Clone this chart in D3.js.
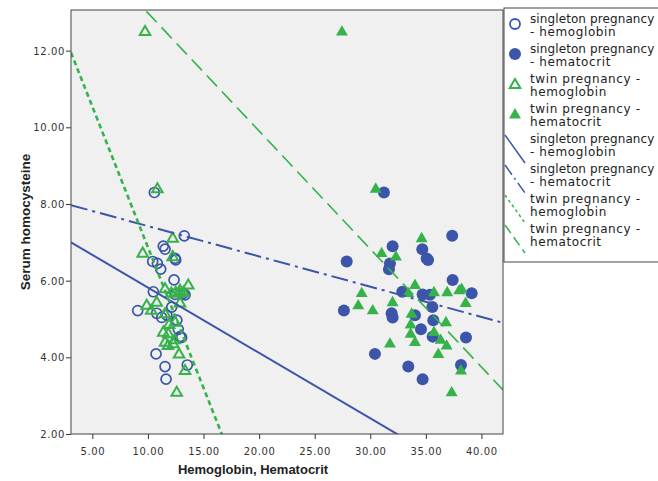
<!DOCTYPE html>
<html><head><meta charset="utf-8">
<script src="https://cdn.jsdelivr.net/npm/d3@7"></script>
<style>body{margin:0;background:#fff;} svg{display:block;}</style>
</head><body>
<svg id="c" width="658" height="481"></svg>
<script>
// Singleton pregnancy: serum homocysteine with hemoglobin / hematocrit per subject
const singletonHcy = [8.30,7.17,6.90,6.82,6.58,6.54,6.50,6.45,6.30,6.02,5.71,5.67,5.64,5.63,5.31,5.22,5.15,5.04,5.10,4.97,4.73,4.54,4.52,4.09,3.80,3.76,3.43];
const singletonHb  = [10.58,13.27,11.38,11.54,12.44,12.50,10.43,10.85,11.15,12.35,10.49,13.18,12.44,13.34,12.14,9.08,10.79,11.24,11.70,12.60,12.73,12.89,13.03,10.73,13.54,11.54,11.63];
const singletonHct = [31.23,37.37,32.01,34.68,35.07,35.20,27.88,31.77,31.68,37.41,32.88,39.12,34.71,35.37,35.58,27.63,31.92,32.01,34.02,35.67,34.56,35.61,38.61,30.42,38.16,33.42,34.71];
// Twin pregnancy
const twinHcy = [12.51,8.41,7.12,6.73,6.64,5.90,5.80,5.76,5.71,5.71,5.69,5.69,5.45,5.43,5.37,5.24,5.15,4.93,4.87,4.67,4.63,4.47,4.41,4.37,4.32,4.10,3.67,3.10];
const twinHb  = [9.74,10.85,12.23,9.53,12.23,13.63,11.54,12.89,12.50,13.20,12.10,12.80,10.79,12.89,9.89,10.30,11.54,12.44,11.90,11.38,11.83,12.40,11.54,12.28,11.80,12.80,13.34,12.59];
const twinHct = [27.45,30.49,34.62,31.02,32.31,34.02,38.22,38.00,35.73,36.92,29.23,33.42,32.01,38.58,28.92,30.22,33.72,36.81,33.63,35.73,33.63,36.33,34.02,31.77,36.87,36.12,38.16,37.32];
// Fit lines (intercept, slope)
const fitNames = ["singleton pregnancy - hemoglobin","singleton pregnancy - hematocrit","twin pregnancy - hemoglobin","twin pregnancy - hematocrit"];
const fitIntercept = [7.525, 8.213, 14.21, 16.06];
const fitSlope = [-0.1705, -0.0790, -0.7338, -0.3078];
const xTicks = [5,10,15,20,25,30,35,40];
const yTicks = [2,4,6,8,10,12];
const legendLabels = [["singleton pregnancy","- hemoglobin"],["singleton pregnancy","- hematocrit"],["twin pregnancy -","hemoglobin"],["twin pregnancy -","hematocrit"],["singleton pregnancy","- hemoglobin"],["singleton pregnancy","- hematocrit"],["twin pregnancy -","hemoglobin"],["twin pregnancy -","hematocrit"]];

const BLUE = "#3c55a8", GREEN = "#36b24a";
const svg = d3.select("#c");
const L = 71, R = 503, T = 10, B = 434;
const x = d3.scaleLinear().domain([3.08, 41.94]).range([L, R]);
const y = d3.scaleLinear().domain([2, 13.06]).range([B, T]);

svg.append("rect").attr("x", L).attr("y", T).attr("width", R - L).attr("height", B - T)
  .attr("fill", "#f0f0f0");
svg.append("defs").append("clipPath").attr("id", "pc").append("rect")
  .attr("x", L).attr("y", T).attr("width", R - L).attr("height", B - T);

// axes
const xAxis = svg.append("g").attr("transform", `translate(0,${B})`)
  .call(d3.axisBottom(x).tickValues(xTicks).tickFormat(d3.format(".2f")).tickSize(5).tickSizeOuter(0));
const yAxis = svg.append("g").attr("transform", `translate(${L},0)`)
  .call(d3.axisLeft(y).tickValues(yTicks).tickFormat(d3.format(".2f")).tickSize(5).tickSizeOuter(0));
[xAxis, yAxis].forEach(g => {
  g.select(".domain").remove();
  g.selectAll("line").attr("stroke", "#333");
  g.selectAll("text").attr("font-family", "DejaVu Sans").attr("font-size", 10)
    .attr("letter-spacing", 0.6).attr("fill", "#333");
});
xAxis.selectAll("text").attr("dy", "1.25em");
yAxis.selectAll("text").attr("dy", "0.34em").attr("x", -6);

const pts = svg.append("g");
function circles(xs, ys, filled) {
  pts.append("g").selectAll("circle").data(xs.map((v, i) => [v, ys[i]])).join("circle")
    .attr("cx", d => x(d[0])).attr("cy", d => y(d[1]))
    .attr("r", filled ? 6 : 5)
    .attr("fill", filled ? BLUE : "none")
    .attr("stroke", filled ? "none" : BLUE).attr("stroke-width", 1.7);
}
const triFilled = d3.symbol().type(d3.symbolTriangle).size(62)();
const triOpen = d3.symbol().type(d3.symbolTriangle).size(48)();
function triangles(xs, ys, filled) {
  pts.append("g").selectAll("path").data(xs.map((v, i) => [v, ys[i]])).join("path")
    .attr("transform", d => `translate(${x(d[0])},${y(d[1]) + 1})`)
    .attr("d", filled ? triFilled : triOpen)
    .attr("fill", filled ? GREEN : "none")
    .attr("stroke", filled ? "none" : GREEN).attr("stroke-width", 2);
}
circles(singletonHb, singletonHcy, false);
circles(singletonHct, singletonHcy, true);
triangles(twinHb, twinHcy, false);
triangles(twinHct, twinHcy, true);

const lineStyles = [
  {c: BLUE, w: 2, dash: null},
  {c: BLUE, w: 2, dash: "17,5,3,5"},
  {c: GREEN, w: 2.6, dash: "5,3.5"},
  {c: GREEN, w: 1.6, dash: "15,7"}
];
const lines = svg.append("g").attr("clip-path", "url(#pc)");
const xd = x.domain();
fitIntercept.forEach((b, i) => {
  const pts2 = xd.map(v => [v, b + fitSlope[i] * v]);
  lines.append("path").attr("d", d3.line().x(d => x(d[0])).y(d => y(d[1]))(pts2))
    .attr("fill", "none").attr("stroke", lineStyles[i].c).attr("stroke-width", lineStyles[i].w)
    .attr("stroke-dasharray", lineStyles[i].dash);
});

// plot frame
svg.append("rect").attr("x", L).attr("y", T).attr("width", R - L).attr("height", B - T)
  .attr("fill", "none").attr("stroke", "#444").attr("stroke-width", 1);

// axis titles
svg.append("text").attr("x", 253).attr("y", 474).attr("text-anchor", "middle")
  .attr("font-family", "Liberation Sans, Arial").attr("font-weight", "bold").attr("font-size", 13)
  .attr("fill", "#222").text("Hemoglobin, Hematocrit");
svg.append("text").attr("transform", `translate(30,${(T + B) / 2}) rotate(-90)`).attr("text-anchor", "middle")
  .attr("font-family", "Liberation Sans, Arial").attr("font-weight", "bold").attr("font-size", 13.5)
  .attr("fill", "#222").text("Serum homocysteine");

// legend
const lg = svg.append("g");
lg.append("rect").attr("x", 504).attr("y", 8).attr("width", 170).attr("height", 254)
  .attr("fill", "#fff").attr("stroke", "#444").attr("stroke-width", 1);
legendLabels.forEach((lab, k) => {
  const top = 30 * k;
  const t = lg.append("text").attr("font-family", "DejaVu Sans").attr("font-size", 12)
    .attr("fill", "#222");
  t.append("tspan").attr("x", 530).attr("y", 23 + top).attr("letter-spacing", lab[0].length > 17 ? 0.1 : 0.6).text(lab[0]);
  t.append("tspan").attr("x", 530).attr("y", 36 + top).attr("letter-spacing", 0.6).text(lab[1]);
  const cy = 24 + top;
  if (k === 0) lg.append("circle").attr("cx", 515).attr("cy", cy).attr("r", 5).attr("fill", "none").attr("stroke", BLUE).attr("stroke-width", 1.8);
  else if (k === 1) lg.append("circle").attr("cx", 515).attr("cy", cy).attr("r", 6).attr("fill", BLUE);
  else if (k === 2) lg.append("path").attr("transform", `translate(515,${cy + 1})`).attr("d", triOpen).attr("fill", "none").attr("stroke", GREEN).attr("stroke-width", 2);
  else if (k === 3) lg.append("path").attr("transform", `translate(515,${cy + 1})`).attr("d", triFilled).attr("fill", GREEN);
  else {
    const s = lineStyles[k - 4];
    lg.append("line").attr("x1", 505).attr("y1", top + 15).attr("x2", 525).attr("y2", top + 43)
      .attr("stroke", s.c).attr("stroke-width", Math.min(s.w, 1.5)).attr("stroke-dasharray", s.dash ? (k === 5 ? "12,4,2,4" : k === 6 ? "3,3" : "10,5") : null);
  }
});
</script>
</body></html>
